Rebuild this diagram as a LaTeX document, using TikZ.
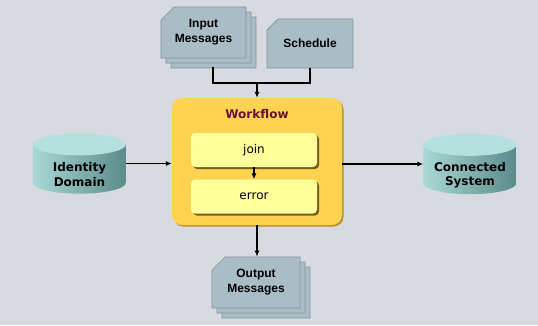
\documentclass[tikz,border=0pt]{standalone}
\usepackage{fontspec}
\setmainfont{DejaVu Sans}
\newfontfamily\cardfont{Liberation Sans}
\usetikzlibrary{arrows.meta,shapes.misc,shadows,calc,backgrounds}

\definecolor{canvas}{HTML}{D7DADF}
\definecolor{cardfill}{HTML}{A9BDC5}
\definecolor{cardedge}{HTML}{7F949C}
\definecolor{wffill}{HTML}{FFD34F}
\definecolor{wfshadow}{HTML}{B8902A}
\definecolor{wftext}{HTML}{6A1030}
\definecolor{stepfill}{HTML}{FFFF9C}
\definecolor{stepshadow}{HTML}{6E5E20}
\definecolor{cyltop}{HTML}{B4E0DD}
\definecolor{cylleft}{HTML}{A9D9D5}
\definecolor{cylright}{HTML}{5B8B88}

\begin{document}
\begin{tikzpicture}[
    x=1pt, y=1pt,
    >=Latex,
    card/.style={chamfered rectangle, chamfered rectangle corners=north west,
                 chamfered rectangle xsep=6.5pt, chamfered rectangle ysep=6.5pt,
                 fill=cardfill, draw=cardedge, line width=0.6pt, inner sep=0pt,
                 align=center, font=\cardfont\bfseries\fontsize{12}{15}\selectfont},
    stack/.style={card, double copy shadow={shadow xshift=5pt, shadow yshift=-5pt}},
    wfbox/.style={fill=wffill, rounded corners=10pt,
                  minimum width=170pt, minimum height=127pt,
                  drop shadow={shadow xshift=1.5pt, shadow yshift=-1.5pt,
                               fill=wfshadow, opacity=1}},
    wftitle/.style={text=wftext, font=\bfseries\fontsize{12}{14}\selectfont},
    stepbox/.style={fill=stepfill, rounded corners=4pt,
                    minimum width=126pt, minimum height=34pt,
                    font=\fontsize{12}{14}\selectfont,
                    drop shadow={shadow xshift=2pt, shadow yshift=-2pt,
                                 fill=stepshadow, opacity=1}},
    store/.style={minimum width=93pt, minimum height=60pt, inner sep=0pt},
    storetext/.style={font=\bfseries\fontsize{12}{14.5}\selectfont, align=center},
    link/.style={line width=1.6pt},
    arrow/.style={-{Latex[length=6pt,width=5pt]}, line width=1.6pt}
]

\node[stack, minimum width=85pt, minimum height=51pt] (inmsg) at (203.5,-32.5)
    {Input\\Messages};
\node[card, minimum width=86pt, minimum height=49pt] (sched) at (310,-43.5)
    {Schedule};

\node[wfbox] (workflow) at (257,-161.5) {};
\node[wftitle] (title) at (257,-114.5) {Workflow};
\node[stepbox] (join) at (254,-150) {join};
\node[stepbox] (error) at (254,-196.5) {error};

\node[store, label={[storetext, yshift=-11pt]center:Identity\\Domain}] (iddom)
    at (79.5,-163.5) {};
\node[store, label={[storetext, yshift=-11pt]center:Connected\\System}] (consys)
    at (470,-164) {};

\node[stack, minimum width=88pt, minimum height=51pt] (outmsg) at (256,-282.5)
    {Output\\Messages};

% canvas and cylinder bodies
\begin{scope}[on background layer]
  \fill[canvas] (0,0) rectangle (538,-325);
  \foreach \n in {iddom,consys} {
    \shade[left color=cylleft, right color=cylright]
      ($(\n.north west)+(0,-11)$) -- ($(\n.south west)+(0,11)$)
      arc[start angle=180, end angle=360, x radius=46.5, y radius=11]
      -- ($(\n.north east)+(0,-11)$) -- cycle;
    \fill[cyltop] ($(\n.north)+(0,-11)$) ellipse[x radius=46.5, y radius=11];
  }
\end{scope}

\coordinate (merge) at (257,-83);
\draw[link] ([xshift=9.5pt,yshift=-9pt]inmsg.south) |- (merge) -| (sched.south);
\draw[arrow] (merge) -- (merge |- workflow.north);
\draw[arrow] (join) -- (error);
\draw[arrow] (iddom.east) -- (iddom.east -| workflow.west);
\draw[arrow] (workflow.east |- consys.west) -- (consys.west);
\draw[arrow] (workflow.south) -- (workflow.south |- outmsg.north);

\end{tikzpicture}
\end{document}
